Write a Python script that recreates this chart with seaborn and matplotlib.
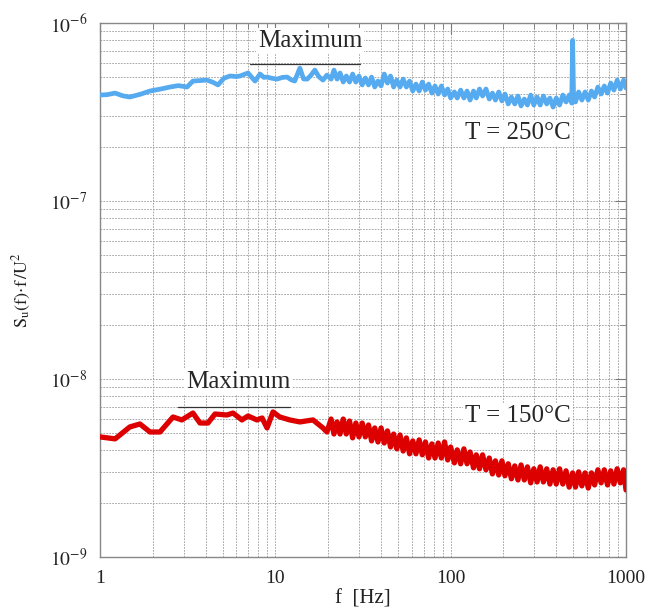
import numpy as np
import pandas as pd
import seaborn as sns
import matplotlib.pyplot as plt
from matplotlib.ticker import LogLocator, FixedLocator, NullFormatter

# T = 250 C spectrum (values in units of 1e-7)
freq_250 = [1.0, 1.1, 1.22, 1.35, 1.48, 1.7, 1.93, 2.2, 2.51, 2.8, 3.14, 3.39, 3.7, 4.08,
            4.4, 4.71, 5.1, 5.52, 6.0, 6.29, 6.99, 7.66, 8.18, 8.6, 8.97, 9.5, 10.2, 11.0,
            11.7, 12.3, 12.9, 13.8, 14.5, 15.2, 16.0, 16.8, 17.7, 18.7, 19.7,
            20.8, 21.6, 22.5, 23.4, 24.4, 25.4, 26.5, 27.6, 28.8, 30.0, 31.3, 32.6, 34.0,
            35.4, 36.9, 38.5, 40.1, 41.8, 43.6, 45.4, 47.3, 49.3, 51.4, 53.6, 55.9, 58.3,
            60.8, 63.4, 66.1, 68.9, 71.8, 74.9, 78.1, 81.4, 84.9, 88.5, 92.3, 96.2, 100,
            105, 109, 114, 119, 124, 129, 135, 140, 146, 152, 159, 166, 173, 180, 188, 196,
            204, 213, 222, 232, 242, 252, 263, 274, 286, 298, 311, 324, 338, 353, 368, 384,
            400, 418, 436, 455, 474, 490, 496, 502, 515, 537, 560, 584, 609, 635, 662, 691,
            721, 752, 784, 818, 853, 890, 928, 968, 1000]
val_250 = [3.94, 3.96, 4.04, 3.90, 3.84, 3.98, 4.15, 4.25, 4.37, 4.45, 4.37, 4.72, 4.75, 4.78,
           4.65, 4.49, 4.90, 5.04, 5.00, 5.04, 5.24, 4.72, 5.17, 4.95, 4.97, 4.90, 4.84, 4.95,
           4.97, 4.80, 4.72, 5.58, 4.85, 4.84, 5.10, 5.44, 5.00, 4.78, 5.10,
           4.84, 5.44, 4.84, 5.24, 4.66, 5.04, 4.66, 5.17, 4.66, 5.04, 4.49, 4.91, 4.49,
           4.97, 4.37, 4.72, 4.43, 5.17, 4.60, 5.04, 4.37, 4.78, 4.37, 4.84, 4.37, 4.72,
           4.15, 4.54, 4.15, 4.66, 4.20, 4.54, 4.04, 4.43, 3.99, 4.43, 3.94, 4.26, 3.79,
           4.10, 3.79, 4.20, 3.79, 4.15, 3.69, 4.15, 3.79, 4.26, 3.89, 4.26, 3.74, 4.04, 3.69,
           4.10, 3.65, 3.99, 3.51, 3.84, 3.51, 3.89, 3.42, 3.74, 3.46, 3.94, 3.46, 3.84, 3.46,
           3.89, 3.51, 3.79, 3.37, 3.79, 3.46, 3.94, 3.60, 3.94, 3.55, 8.00, 3.94, 3.60, 4.10,
           3.69, 4.10, 3.69, 4.15, 3.84, 4.37, 3.99, 4.43, 4.04, 4.60, 4.20, 4.78, 4.26, 4.78,
           4.31]

# T = 150 C spectrum (values in units of 1e-9)
freq_150 = [1.0, 1.22, 1.48, 1.69, 1.93, 2.2, 2.61, 2.93, 3.39, 3.72, 4.13, 4.53, 5.3, 5.74,
            6.45, 6.99, 7.85, 8.41, 8.97, 9.7, 10.6, 12.1, 13.8, 16.4, 18.7,
            19.7, 20.8, 21.6, 22.5, 23.4, 24.4, 25.4, 26.5, 27.6, 28.8, 30.0, 31.3, 32.6,
            34.0, 35.4, 36.9, 38.5, 40.1, 41.8, 43.6, 45.4, 47.3, 49.3, 51.4, 53.6, 55.9,
            58.3, 60.8, 63.4, 66.1, 68.9, 71.8, 74.9, 78.1, 81.4, 84.9, 88.5, 92.3, 96.2,
            100, 105, 109, 114, 119, 124, 129, 135, 140, 146, 152, 159, 166, 173, 180, 188,
            196, 204, 213, 222, 232, 242, 252, 263, 274, 286, 298, 311, 324, 338, 353, 368,
            384, 400, 418, 436, 455, 474, 496, 515, 537, 560, 584, 609, 635, 662, 691, 721,
            752, 784, 818, 853, 890, 928, 968, 1000]
val_150 = [4.73, 4.61, 5.38, 5.59, 5.04, 5.04, 6.12, 5.89, 6.44, 5.66, 5.66, 6.36, 6.28, 6.44,
           5.89, 6.20, 5.89, 6.04, 5.31, 6.53, 6.12, 5.89, 5.74, 5.89, 5.31,
           5.04, 5.96, 4.91, 5.74, 4.91, 5.96, 4.91, 5.81, 4.67, 5.66, 4.73, 5.66, 4.73,
           5.52, 4.49, 5.31, 4.43, 5.31, 4.37, 5.11, 4.15, 4.91, 4.05, 4.85, 3.94, 4.67,
           3.80, 4.49, 3.80, 4.55, 3.75, 4.43, 3.60, 4.32, 3.60, 4.37, 3.60, 4.43, 3.51,
           4.15, 3.38, 4.00, 3.34, 4.05, 3.34, 3.89, 3.17, 3.75, 3.13, 3.75, 3.09, 3.60,
           2.93, 3.47, 2.89, 3.47, 2.86, 3.34, 2.75, 3.25, 2.71, 3.29, 2.71, 3.21, 2.61,
           3.13, 2.64, 3.21, 2.64, 3.13, 2.57, 3.09, 2.57, 3.13, 2.57, 3.05, 2.47, 2.97,
           2.47, 3.01, 2.51, 2.97, 2.44, 2.97, 2.54, 3.09, 2.61, 3.09, 2.54, 3.05, 2.57,
           3.13, 2.61, 3.09, 2.38]

df_250 = pd.DataFrame({"f": freq_250, "S": np.array(val_250) * 1e-7})
df_150 = pd.DataFrame({"f": freq_150, "S": np.array(val_150) * 1e-9})

sns.set_style("white")
plt.rcParams["font.family"] = ["Liberation Serif", "DejaVu Serif"]
plt.rcParams["mathtext.fontset"] = "stix"

fig = plt.figure(figsize=(6.49, 6.14), dpi=100)
ax = fig.add_axes([0.154, 0.0928, 0.8106, 0.8697])

sns.lineplot(data=df_250, x="f", y="S", ax=ax, color="#55aaf0", lw=3.4,
             estimator=None, sort=False, zorder=3)
sns.lineplot(data=df_150, x="f", y="S", ax=ax, color="#dd0000", lw=3.8,
             estimator=None, sort=False, zorder=3)

ax.set_xscale("log")
ax.set_yscale("log")
ax.set_xlim(1, 1000)
ax.set_ylim(1e-9, 1e-6)

ax.xaxis.set_major_locator(FixedLocator([1, 10, 100, 1000]))
ax.set_xticklabels(["1", "10", "100", "1000"])
ax.xaxis.set_minor_locator(LogLocator(base=10, subs=np.arange(2, 10)))
ax.xaxis.set_minor_formatter(NullFormatter())
ax.yaxis.set_major_locator(FixedLocator([1e-9, 1e-8, 1e-7, 1e-6]))
ax.set_yticklabels([r"$10^{-9}$", r"$10^{-8}$", r"$10^{-7}$", r"$10^{-6}$"])
ax.yaxis.set_minor_locator(LogLocator(base=10, subs=np.arange(2, 10)))
ax.yaxis.set_minor_formatter(NullFormatter())

ax.tick_params(which="both", direction="in", top=True, right=True, colors="#777777",
               labelcolor="#222222", labelsize=14)
ax.tick_params(which="major", length=8, pad=9)
ax.tick_params(which="minor", length=4)
ax.grid(which="both", color="#999999", ls=(0, (2, 1.5)), lw=0.6, zorder=0)
for s in ax.spines.values():
    s.set_color("#888888")
    s.set_linewidth(1.0)

ax.set_xlabel("f  [Hz]", fontsize=15, color="#222222", labelpad=2)
ax.set_ylabel(r"$\mathrm{S_u(f)\!\cdot\! f\,/U^2}$", fontsize=13, color="#222222", labelpad=12)

box = dict(facecolor="white", edgecolor="none", pad=1.5)
ax.text(15.8, 7.9e-7, "Maximum", fontsize=18, ha="center", va="center", bbox=box, zorder=4)
ax.plot([7.17, 30.4], [5.89e-7, 5.89e-7], color="#333333", lw=0.9, zorder=4)
ax.text(6.13, 9.6e-9, "Maximum", fontsize=18, ha="center", va="center", bbox=box, zorder=4)
ax.plot([2.79, 12.1], [6.97e-9, 6.97e-9], color="#333333", lw=0.9, zorder=4)
ax.text(243, 2.41e-7, "T = 250°C", fontsize=18, ha="center", va="center", bbox=box, zorder=4)
ax.text(243, 6.2e-9, "T = 150°C", fontsize=18, ha="center", va="center", bbox=box, zorder=4)

fig.savefig("out.png", dpi=100)
